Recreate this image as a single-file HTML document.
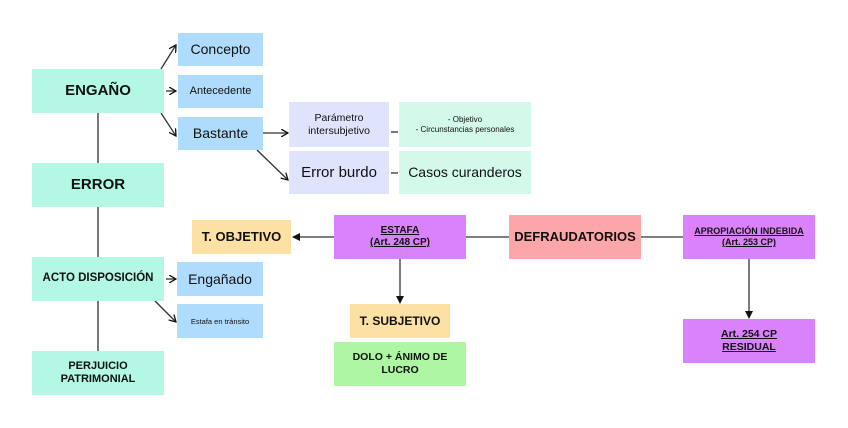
<!DOCTYPE html>
<html><head><meta charset="utf-8"><style>
body{margin:0;width:848px;height:428px;background:#fff;position:relative;font-family:"Liberation Sans",sans-serif;overflow:hidden}
.b{position:absolute;display:flex;align-items:center;justify-content:center;text-align:center;color:#111;line-height:1.2}
.g{background:#b3f8e5}.bl{background:#afdcfc}.lv{background:#dfe3fb}.lg{background:#d2f9ea}.o{background:#fde0a3}.p{background:#d982fb}.r{background:#fba6a8}.gr{background:#aef6a3}
.u{text-decoration:underline;font-weight:bold}
svg{position:absolute;left:0;top:0}
</style></head><body>
<svg width="848" height="428">
<defs><marker id="a" markerWidth="8" markerHeight="8" refX="7" refY="4" orient="auto" markerUnits="userSpaceOnUse"><path d="M0,0 L8,4 L0,8 Z" fill="#111"/></marker>
<marker id="c" markerWidth="8" markerHeight="8" refX="7" refY="4" orient="auto" markerUnits="userSpaceOnUse"><path d="M0,0 L7,4 L0,8" fill="none" stroke="#111" stroke-width="1.3"/></marker></defs>
<g stroke="#333" stroke-width="1.3" fill="none">
<line x1="98" y1="113" x2="98" y2="163"/><line x1="98" y1="207" x2="98" y2="257"/><line x1="98" y1="301" x2="98" y2="351"/>
<line x1="161" y1="69" x2="176" y2="45" marker-end="url(#c)"/>
<line x1="166" y1="91" x2="176" y2="91" marker-end="url(#c)"/>
<line x1="161" y1="113" x2="176" y2="136" marker-end="url(#c)"/>
<line x1="262" y1="133" x2="288" y2="133" marker-end="url(#c)"/>
<line x1="257" y1="150" x2="288" y2="180" marker-end="url(#c)"/>
<line x1="391" y1="132" x2="398" y2="132"/><line x1="391" y1="173" x2="398" y2="173"/>
<line x1="166" y1="279" x2="176" y2="279" marker-end="url(#c)"/>
<line x1="155" y1="301" x2="176" y2="322" marker-end="url(#c)"/>
<line x1="334" y1="237" x2="293" y2="237" marker-end="url(#a)"/>
<line x1="466" y1="237" x2="509" y2="237"/><line x1="641" y1="237" x2="683" y2="237"/>
<line x1="400" y1="259" x2="400" y2="303" marker-end="url(#a)"/>
<line x1="749" y1="259" x2="749" y2="318" marker-end="url(#a)"/>
</g></svg>
<div class="b g" style="left:32px;top:69px;width:132px;height:44px;font-size:15px;font-weight:bold">ENGAÑO</div>
<div class="b g" style="left:32px;top:163px;width:132px;height:44px;font-size:15px;font-weight:bold">ERROR</div>
<div class="b g" style="left:32px;top:257px;width:132px;height:44px;font-size:11.5px;font-weight:bold">ACTO DISPOSICIÓN</div>
<div class="b g" style="left:32px;top:351px;width:132px;height:44px;font-size:11px;font-weight:bold">PERJUICIO<br>PATRIMONIAL</div>
<div class="b bl" style="left:178px;top:33px;width:85px;height:33px;font-size:14px">Concepto</div>
<div class="b bl" style="left:178px;top:75px;width:85px;height:33px;font-size:11px">Antecedente</div>
<div class="b bl" style="left:178px;top:117px;width:85px;height:33px;font-size:14px">Bastante</div>
<div class="b lv" style="left:289px;top:102px;width:100px;height:45px;font-size:10.5px">Parámetro<br>intersubjetivo</div>
<div class="b lg" style="left:399px;top:102px;width:132px;height:45px;font-size:8px">- Objetivo<br>- Circunstancias personales</div>
<div class="b lv" style="left:289px;top:151px;width:100px;height:43px;font-size:15px">Error burdo</div>
<div class="b lg" style="left:399px;top:151px;width:132px;height:43px;font-size:14px">Casos curanderos</div>
<div class="b bl" style="left:177px;top:262px;width:86px;height:34px;font-size:14px">Engañado</div>
<div class="b bl" style="left:177px;top:304px;width:86px;height:34px;font-size:7.5px">Estafa en tránsito</div>
<div class="b o" style="left:192px;top:220px;width:99px;height:34px;font-size:13px;font-weight:bold">T. OBJETIVO</div>
<div class="b p" style="left:334px;top:215px;width:132px;height:44px;font-size:10px"><span class="u">ESTAFA<br>(Art. 248 CP)</span></div>
<div class="b r" style="left:509px;top:215px;width:132px;height:44px;font-size:13px;font-weight:bold">DEFRAUDATORIOS</div>
<div class="b p" style="left:683px;top:215px;width:132px;height:44px;font-size:9px"><span class="u">APROPIACIÓN INDEBIDA<br>(Art. 253 CP)</span></div>
<div class="b o" style="left:350px;top:304px;width:100px;height:34px;font-size:12px;font-weight:bold">T. SUBJETIVO</div>
<div class="b gr" style="left:334px;top:342px;width:132px;height:44px;font-size:10.5px;font-weight:bold">DOLO + ÁNIMO DE<br>LUCRO</div>
<div class="b p" style="left:683px;top:319px;width:132px;height:44px;font-size:10.5px"><span class="u">Art. 254 CP<br>RESIDUAL</span></div>
</body></html>
